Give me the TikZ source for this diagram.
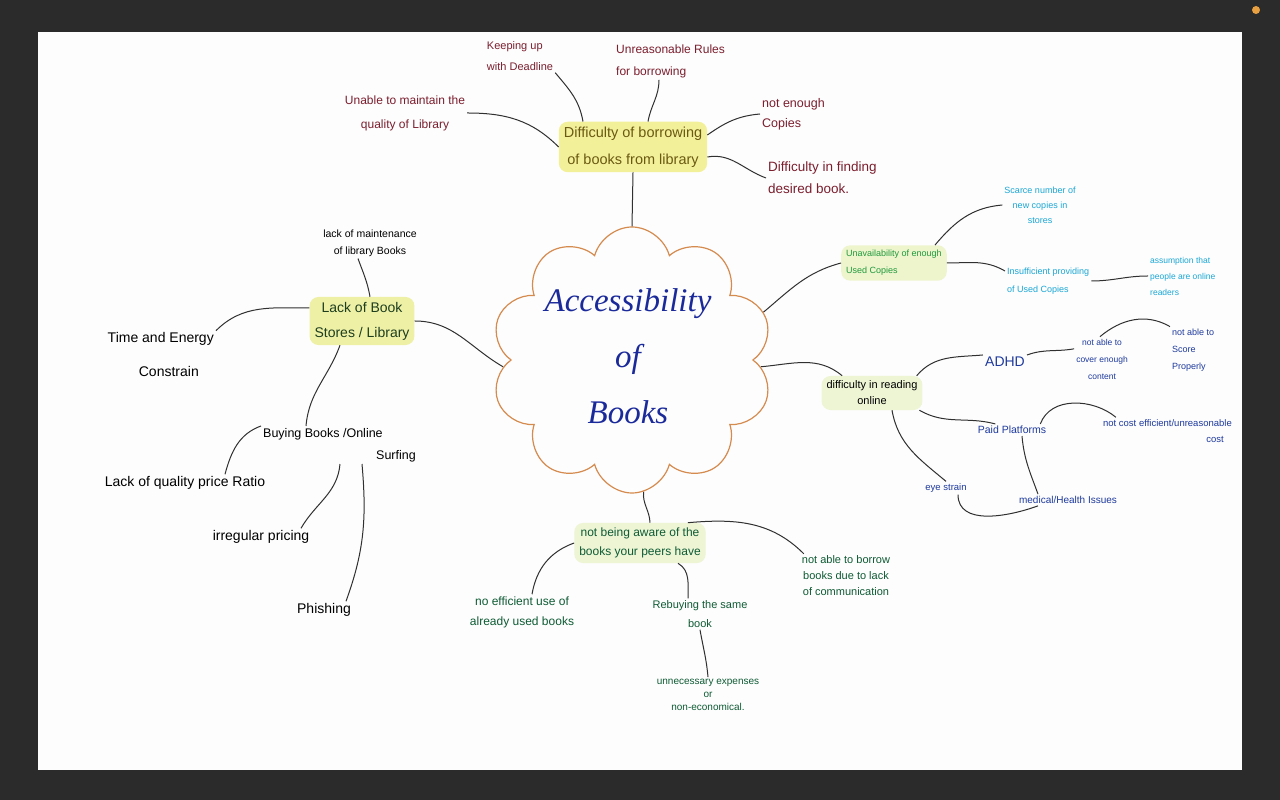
\documentclass[tikz,border=0pt]{standalone}
\usepackage{fontspec}
\setmainfont{Liberation Sans}
\newfontfamily\titlefont{Liberation Serif}
\usetikzlibrary{shapes.symbols}

\definecolor{frame}{HTML}{2B2B2B}
\definecolor{paper}{HTML}{FDFDFD}
\definecolor{dotorange}{HTML}{E8A040}
\definecolor{cloudorange}{HTML}{D58A4E}
\definecolor{titleblue}{HTML}{1B2A9B}
\definecolor{linkgray}{HTML}{303030}
\definecolor{maroon}{HTML}{7B1E2E}
\definecolor{olive}{HTML}{6B5A12}
\definecolor{cyanink}{HTML}{1AA7D6}
\definecolor{usedgreen}{HTML}{1F9A3C}
\definecolor{blueink}{HTML}{1E3A9E}
\definecolor{dkgreen}{HTML}{0E5B34}
\definecolor{libgreen}{HTML}{1E3E1E}
\definecolor{hlyellow}{HTML}{F3F09A}
\definecolor{hlpale}{HTML}{EEF4CC}
\definecolor{hlgreen}{HTML}{EDF5D5}
\definecolor{hllib}{HTML}{EEF0A6}

\newcommand{\fs}[2]{\fontsize{#1}{#2}\selectfont}

\tikzset{
  link/.style={draw=linkgray, line width=1pt},
  leaf/.style={align=center, inner sep=2pt},
  hub/.style={align=center, inner sep=5pt, rounded corners=9pt},
}

\begin{document}
\begin{tikzpicture}[x=1pt,y=1pt]
% Frame and page
\fill[frame] (0,0) rectangle (1280,800);
\fill[paper] (38,30) rectangle (1242,768);
\useasboundingbox (0,0) rectangle (1280,800);
\fill[dotorange] (1256,790) circle [radius=4];

% Centre cloud
\node[cloud, cloud puffs=10, cloud ignores aspect, draw=cloudorange, line width=1.2pt,
  minimum width=282pt, minimum height=266pt] (cloud) at (632,440) {};
\node[align=center, text=titleblue, font=\titlefont\itshape\fs{33}{56}] (title) at (628,444)
  {Accessibility\\of\\Books};

% Top: borrowing from library
\node[hub, fill=hlyellow, text=olive, font=\fs{14.5}{27}] (borrow) at (633,653)
  {Difficulty of borrowing\\of books from library};
\node[leaf, align=left, text=maroon, font=\fs{11}{21}] (deadline) at (520,744)
  {Keeping up\\with Deadline};
\node[leaf, align=left, anchor=west, text=maroon, font=\fs{12}{22}] (rules) at (614,739)
  {Unreasonable Rules\\for borrowing};
\node[leaf, text=maroon, font=\fs{12}{24}] (unable) at (405,687)
  {Unable to maintain the\\quality of Library};
\node[leaf, align=left, anchor=west, text=maroon, font=\fs{12.5}{20}] (copies) at (760,686)
  {not enough\\Copies};
\node[leaf, align=left, anchor=west, text=maroon, font=\fs{13.5}{22}] (finding) at (766,622)
  {Difficulty in finding\\desired book.};
\draw[link] (deadline.south east) to[out=-50,in=100] ([xshift=-50pt]borrow.north);
\draw[link] ([xshift=45pt]rules.south west) to[out=-90,in=80] ([xshift=15pt]borrow.north);
\draw[link] (unable.east) to[out=0,in=135] (borrow.west);
\draw[link] ([yshift=12pt]borrow.east) to[out=35,in=185] (copies.west);
\draw[link] ([yshift=-10pt]borrow.east) to[out=10,in=160] (finding.west);
\draw[link] (borrow.south) -- (cloud.north);

% Right: used copies
\node[hub, align=left, anchor=west, fill=hlpale, text=usedgreen, font=\fs{9}{17}] (usedhub) at (841,537)
  {Unavailability of enough\\Used Copies};
\node[leaf, text=cyanink, font=\fs{9}{15}] (scarce) at (1040,595)
  {Scarce number of\\new copies in\\stores};
\node[leaf, align=left, anchor=west, text=cyanink, font=\fs{9}{18}] (insuff) at (1005,519)
  {Insufficient providing\\of Used Copies};
\node[leaf, align=left, anchor=west, text=cyanink, font=\fs{8.5}{16}] (assume) at (1148,524)
  {assumption that\\people are online\\readers};
\draw[link] (cloud.20) to[out=40,in=195] (usedhub.west);
\draw[link] ([xshift=-12pt]usedhub.north east) to[out=50,in=185] (scarce.west);
\draw[link] (usedhub.east) to[out=0,in=150] ([yshift=10pt]insuff.west);
\draw[link] (insuff.east) to[out=0,in=180] (assume.west);

% Right: reading online
\node[hub, fill=hlgreen, font=\fs{11}{16}] (readhub) at (872,407)
  {difficulty in reading\\online};
\node[leaf, text=blueink, font=\fs{14}{16}] (adhd) at (1005,438) {ADHD};
\node[leaf, text=blueink, font=\fs{8.5}{17}] (cover) at (1102,441)
  {not able to\\cover enough\\content};
\node[leaf, align=left, anchor=west, text=blueink, font=\fs{9}{17}] (score) at (1170,450)
  {not able to\\Score\\Properly};
\node[leaf, text=blueink, font=\fs{10.5}{14}] (paid) at (1012,370) {Paid Platforms};
\node[leaf, align=right, anchor=east, text=blueink, font=\fs{9.5}{16}] (costly) at (1234,369)
  {not cost efficient/unreasonable\\cost\hspace*{8pt}};
\node[leaf, text=blueink, font=\fs{10}{14}] (health) at (1068,300) {medical/Health Issues};
\node[leaf, text=blueink, font=\fs{9.5}{14}] (eye) at (946,312) {eye strain};
\draw[link] (cloud.-3) to[out=5,in=140] (readhub.150);
\draw[link] ([xshift=-6pt]readhub.north east) to[out=50,in=185] (adhd.north west);
\draw[link] (adhd.north east) to[out=20,in=190] (cover.160);
\draw[link] ([xshift=-30pt]cover.north east) to[out=40,in=150] (score.north west);
\draw[link] (readhub.-20) to[out=-30,in=165] (paid.160);
\draw[link] ([xshift=-8pt]paid.north east) to[out=70,in=140] ([xshift=15pt]costly.north west);
\draw[link] ([xshift=10pt]paid.south) to[out=-85,in=110] ([xshift=-30pt]health.north);
\draw[link] ([xshift=20pt]readhub.south) to[out=-80,in=140] (eye.north);
\draw[link] ([xshift=12pt]eye.south) to[out=-90,in=200] ([xshift=-30pt]health.south);

% Bottom: peers
\node[hub, fill=hlgreen, text=dkgreen, font=\fs{12}{19}] (peerhub) at (640,257)
  {not being aware of the\\books your peers have};
\node[leaf, text=dkgreen, font=\fs{12}{20}] (noeff) at (522,188)
  {no efficient use of\\already used books};
\node[leaf, text=dkgreen, font=\fs{11}{19}] (rebuy) at (700,186)
  {Rebuying the same\\book};
\node[leaf, text=dkgreen, font=\fs{10}{13}] (expense) at (708,105)
  {unnecessary expenses\\or\\non-economical.};
\node[leaf, text=dkgreen, font=\fs{11}{16}] (borrowpeer) at (846,224)
  {not able to borrow\\books due to lack\\of communication};
\draw[link] (cloud.-85) to[out=-95,in=92] ([xshift=10pt]peerhub.north);
\draw[link] (peerhub.west) to[out=200,in=80] ([xshift=10pt]noeff.north);
\draw[link] ([xshift=38pt]peerhub.south) to[out=-30,in=90] ([xshift=-12pt]rebuy.north);
\draw[link] (rebuy.south) to[out=-80,in=95] (expense.north);
\draw[link] ([xshift=-18pt]peerhub.north east) to[out=5,in=135] ([xshift=4pt]borrowpeer.north west);

% Left: book stores
\node[hub, fill=hllib, text=libgreen, font=\fs{14}{25}] (libhub) at (362,479)
  {Lack of Book\\Stores / Library};
\node[leaf, font=\fs{10.5}{17}] (maint) at (370,557)
  {lack of maintenance\\of library Books};
\node[leaf, align=right, anchor=east, font=\fs{14}{34}] (timeeng) at (216,445)
  {Time and Energy\\Constrain\hspace*{15pt}};
\node[leaf, align=left, anchor=west, font=\fs{12.5}{22}] (buying) at (261,355)
  {Buying Books /Online\\\hspace*{113pt}Surfing};
\node[leaf, font=\fs{14}{15}] (ratio) at (185,317) {Lack of quality price Ratio};
\node[leaf, font=\fs{14}{15}] (irreg) at (261,263) {irregular pricing};
\node[leaf, font=\fs{14}{16}] (phish) at (324,190) {Phishing};
\draw[link] ([xshift=-12pt]maint.south) to[out=-70,in=100] ([xshift=8pt]libhub.north);
\draw[link] ([yshift=13pt]libhub.west) to[out=180,in=45] (timeeng.north east);
\draw[link] (libhub.east) to[out=0,in=150] (cloud.183);
\draw[link] ([xshift=-22pt]libhub.south) to[out=-110,in=85] ([xshift=45pt]buying.north west);
\draw[link] (buying.north west) to[out=200,in=75] ([xshift=40pt]ratio.north);
\draw[link] ([xshift=79pt]buying.south west) to[out=-95,in=60] ([xshift=40pt]irreg.north);
\draw[link] ([xshift=101pt]buying.south west) to[out=-85,in=70] ([xshift=22pt]phish.north);
\end{tikzpicture}
\end{document}
